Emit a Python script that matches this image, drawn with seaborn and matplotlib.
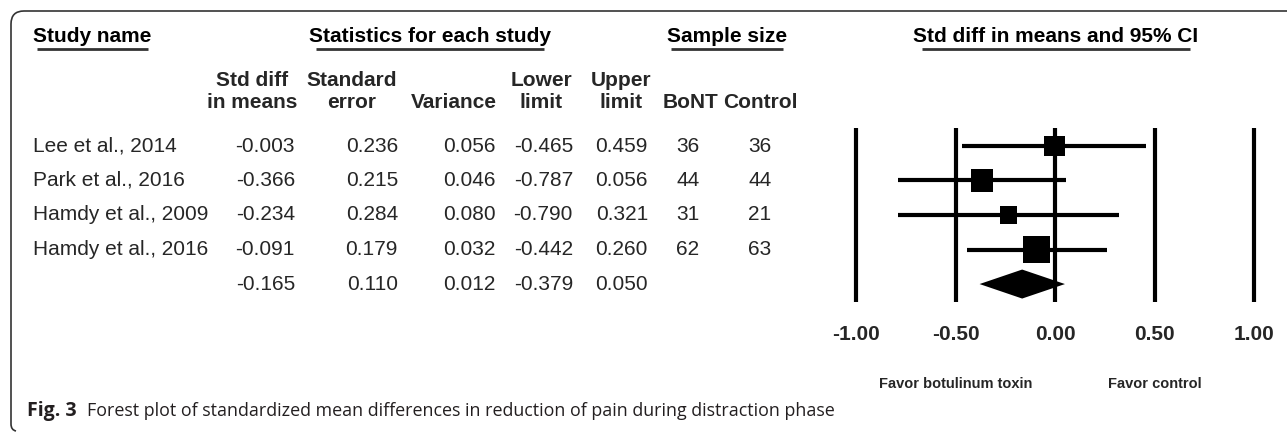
# forest plot: standardized mean differences, pain reduction during distraction phase

import numpy as np
import pandas as pd
import matplotlib.pyplot as plt
import seaborn as sns
from matplotlib.path import Path
from matplotlib.patches import PathPatch
from matplotlib.transforms import blended_transform_factory

# data
studies = ["Lee et al., 2014", "Park et al., 2016", "Hamdy et al., 2009", "Hamdy et al., 2016"]
smd = [-0.003, -0.366, -0.234, -0.091]
se = [0.236, 0.215, 0.284, 0.179]
variance = [0.056, 0.046, 0.080, 0.032]
lower = [-0.465, -0.787, -0.790, -0.442]
upper = [0.459, 0.056, 0.321, 0.260]
n_bont = [36, 44, 31, 62]
n_control = [36, 44, 21, 63]
pooled = {"smd": -0.165, "se": 0.110, "var": 0.012, "lower": -0.379, "upper": 0.050}
xticks = [-1.00, -0.50, 0.00, 0.50, 1.00]
favor_labels = ["Favor botulinum toxin", "Favor control"]
favor_pos = [-0.5, 0.5]
caption_bold = "Fig. 3"
caption = "Forest plot of standardized mean differences in reduction of pain during distraction phase"

df = pd.DataFrame({"study": studies, "smd": smd, "se": se, "var": variance,
                   "lower": lower, "upper": upper, "bont": n_bont, "control": n_control})
df["row"] = np.arange(len(df))
df["weight"] = 1 / df["var"]

sns.set_theme(style="white")
plt.rcParams["font.family"] = ["Liberation Sans", "DejaVu Sans"]

W, H = 1287, 432
fig = plt.figure(figsize=(W / 100, H / 100), dpi=100)

# full-figure axes in pixel units for the table part
tab = fig.add_axes([0, 0, 1, 1])
tab.set_xlim(0, W)
tab.set_ylim(H, 0)
tab.axis("off")

FS = 15
row_y0, row_dy = 146, 34.5
row_y = [row_y0 + row_dy * i for i in range(len(df) + 1)]

# frame: top and left edges, rounded corners
verts = [(W, 11), (24, 11), (11, 11), (11, 24), (11, 424), (11, 430), (16, 431)]
codes = [Path.MOVETO, Path.LINETO, Path.CURVE3, Path.CURVE3, Path.LINETO, Path.CURVE3, Path.CURVE3]
tab.add_patch(PathPatch(Path(verts, codes), fill=False, lw=1.2, edgecolor="#333333"))

# group headers
groups = [("Study name", 33, "left"), ("Statistics for each study", 430, "center"),
          ("Sample size", 727, "center"), ("Std diff in means and 95% CI", 1056, "center")]
group_texts = []
for label, x, ha in groups:
    t = tab.text(x, 37, label, ha=ha, va="center", fontsize=FS, fontweight="bold", color="black")
    group_texts.append(t)

# column headers
col_heads = [("Std diff", "in means", 252), ("Standard", "error", 352), ("", "Variance", 454),
             ("Lower", "limit", 541), ("Upper", "limit", 621), ("", "BoNT", 691), ("", "Control", 760)]
for top, bot, x in col_heads:
    if top:
        tab.text(x, 80, top, ha="center", va="center", fontsize=FS, fontweight="bold")
    tab.text(x, 103, bot, ha="center", va="center", fontsize=FS, fontweight="bold")

# table rows
for i, r in df.iterrows():
    y = row_y[i]
    tab.text(33, y, r["study"], ha="left", va="center", fontsize=FS)
    tab.text(295, y, f"{r['smd']:.3f}", ha="right", va="center", fontsize=FS)
    tab.text(398, y, f"{r['se']:.3f}", ha="right", va="center", fontsize=FS)
    tab.text(496, y, f"{r['var']:.3f}", ha="right", va="center", fontsize=FS)
    tab.text(573, y, f"{r['lower']:.3f}", ha="right", va="center", fontsize=FS)
    tab.text(648, y, f"{r['upper']:.3f}", ha="right", va="center", fontsize=FS)
    tab.text(688, y, f"{r['bont']}", ha="center", va="center", fontsize=FS)
    tab.text(760, y, f"{r['control']}", ha="center", va="center", fontsize=FS)
yp = row_y[len(df)]
for key, x in [("smd", 295), ("se", 398), ("var", 496), ("lower", 573), ("upper", 648)]:
    tab.text(x, yp, f"{pooled[key]:.3f}", ha="right", va="center", fontsize=FS)

# forest axes: x=-1 at 856 px, x=1 at 1254 px
px_per_unit = (1254 - 856) / 2
xlim = (-1.2, 1.2)
left_px = 856 - 0.2 * px_per_unit
top_px, bot_px = 128, 302
ax = fig.add_axes([left_px / W, (H - bot_px) / H, (xlim[1] - xlim[0]) * px_per_unit / W,
                   (bot_px - top_px) / H])
ax.set_xlim(*xlim)
ax.set_ylim(len(df) + 0.52, -0.52)
ax.patch.set_alpha(0)
for s in ax.spines.values():
    s.set_visible(False)

for t in xticks:
    ax.axvline(t, color="black", lw=3, solid_capstyle="butt")
ax.hlines(df["row"], df["lower"], df["upper"], color="black", lw=3)

# squares: side proportional to sqrt(weight)
k = (0.72 * 4.85) ** 2
sns.scatterplot(data=df, x="smd", y="row", size="weight",
                sizes=(k * df["weight"].min(), k * df["weight"].max()),
                marker="s", color="black", linewidth=0, legend=False, ax=ax)

# pooled diamond
yd = len(df)
ax.fill([pooled["lower"], pooled["smd"], pooled["upper"], pooled["smd"]],
        [yd, yd - 0.42, yd, yd + 0.42], color="black", lw=0)

ax.set_xticks(xticks)
ax.set_xticklabels([f"{t:.2f}" for t in xticks], fontweight="bold", fontsize=FS)
ax.tick_params(axis="x", length=0, pad=16.5)
ax.set_yticks([])
ax.set_xlabel("")
ax.set_ylabel("")

fav_tr = blended_transform_factory(ax.transData, tab.transData)
for label, xpos in zip(favor_labels, favor_pos):
    ax.text(xpos, 384, label, transform=fav_tr, ha="center", va="center",
            fontsize=10.5, fontweight="bold", clip_on=False)

# caption
cap1 = tab.text(27, 411, caption_bold, ha="left", va="center", fontsize=14,
                fontweight="bold", family="Open Sans", color="#231f20")

fig.canvas.draw()
renderer = fig.canvas.get_renderer()
inv = tab.transData.inverted()

bb = cap1.get_window_extent(renderer)
x_end = inv.transform((bb.x1, bb.y0))[0]
tab.text(x_end + 10, 411, caption, ha="left", va="center", fontsize=12.9,
         family="Open Sans", color="#231f20")

# underline group headers
for t in group_texts:
    bb = t.get_window_extent(renderer)
    (x0, _), (x1, _) = inv.transform([(bb.x0, bb.y0), (bb.x1, bb.y0)])
    inset = 0.03 * (x1 - x0)
    tab.plot([x0 + inset, x1 - inset], [48.5, 48.5], color="#333333", lw=2, solid_capstyle="butt")

fig.savefig("out.png", dpi=100)
